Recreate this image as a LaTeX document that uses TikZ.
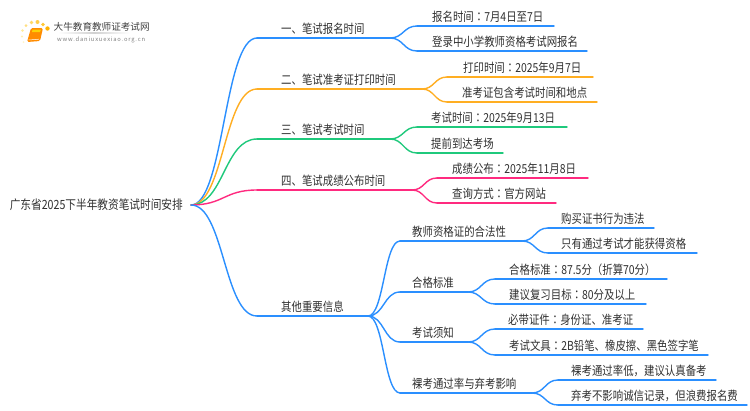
\documentclass[tikz,border=0pt]{standalone}
\usepackage{fontspec}
\setmainfont[FakeStretch=0.84]{Noto Sans CJK SC}
\newfontfamily\tcf[FakeStretch=0.84]{Noto Sans CJK TC}
\newfontfamily\logof{Noto Sans CJK SC}
\usetikzlibrary{calc}
\definecolor{cblue}{HTML}{2A8FFF}
\definecolor{corange}{HTML}{FFAE22}
\definecolor{cgreen}{HTML}{1FC97C}
\definecolor{cpink}{HTML}{FF2A7F}
\definecolor{ctext}{HTML}{303030}
\newcommand{\cln}{{\tcf ：}}
\newcommand{\cma}{，}
% \topicbar{name}{colour}{x start}{x end}{y}{text left}{text}
\newcommand{\topicbar}[7]{%
  \coordinate (#1L) at (#3,#5);
  \coordinate (#1R) at (#4,#5);
  \node[lbl,anchor=base west] (#1) at (#6,#5-4.6) {#7};
  \draw[link,#2] (#1L) -- (#1R);
}
% \conn{colour}{from}{to}
\newcommand{\conn}[3]{%
  \draw[link,#1] (#2) .. controls ($(#2)!.5!(#3|-#2)$) and ($(#3)!.5!(#2|-#3)$) .. (#3);
}
\tikzset{
  lbl/.style={inner sep=0pt,font=\fontsize{12.4pt}{14pt}\selectfont,text=ctext},
  link/.style={line width=1.4pt,line cap=round}
}
\begin{document}
\begin{tikzpicture}[x=1pt,y=-1pt]
\useasboundingbox[fill=white] (0,0) rectangle (750,410);
% logo
\fill[orange!60!yellow] (47.5,28.5) circle (2.2);
\fill[orange!55!yellow!80!white] (43,24.5) circle (1.9);
\fill[orange!55!yellow!70!white] (37.5,22) circle (2);
\fill[orange!50!yellow!60!white] (31.5,22.5) circle (1.8);
\fill[orange!50!yellow!50!white] (26,25.5) circle (1.5);
\fill[orange!40!yellow!40!white] (22.5,30.5) circle (1.3);
\fill[orange!40!yellow!30!white] (22,36.5) circle (1.1);
\fill[orange!40!yellow!20!white] (23.5,42) circle (1);
\fill[orange!90!yellow,rounded corners=1.5pt] (31,28) -- (43,28) -- (40,41) -- (27,42) -- cycle;
\fill[yellow!70!orange] (32.5,29.5) -- (41,29.5) -- (40,32) -- (32,32) -- cycle;
\draw[white,line width=.5pt] (28.5,40) -- (39,39.2);
\shade[left color=white,right color=white,middle color=black!18] (58,32.8) rectangle (130,33.6);
\node[inner sep=0pt,anchor=base west,font=\logof\fontsize{9.6pt}{11pt}\selectfont,text=black!75] (logotitle) at (53.5,30) {大牛教育教师证考试网};
\node[inner sep=0pt,anchor=base west,font=\logof\fontsize{5.8pt}{7pt}\selectfont,text=black!50] (logourl) at (57,41.3) {\addfontfeatures{LetterSpace=14}www.daniuxuexiao.org.cn};
% root
\coordinate (rootR) at (191,205);
\node[lbl,anchor=base east,font=\fontsize{12.7pt}{14pt}\selectfont] (root) at (183,209) {广东省2025下半年教资笔试时间安排};
% branch 1
\topicbar{a}{cblue}{257}{390}{38}{281}{一、笔试报名时间}
\topicbar{aa}{cblue}{417}{554}{26}{432}{报名时间\cln 7月4日至7日}
\topicbar{ab}{cblue}{417}{587}{51}{432}{登录中小学教师资格考试网报名}
\conn{cblue}{rootR}{aL}\conn{cblue}{aR}{aaL}\conn{cblue}{aR}{abL}
% branch 2
\topicbar{b}{corange}{257}{422}{89}{281}{二、笔试准考证打印时间}
\topicbar{ba}{corange}{447}{593}{77}{463}{打印时间\cln 2025年9月7日}
\topicbar{bb}{corange}{447}{597}{102}{462}{准考证包含考试时间和地点}
\conn{corange}{rootR}{bL}\conn{corange}{bR}{baL}\conn{corange}{bR}{bbL}
% branch 3
\topicbar{c}{cgreen}{257}{390}{139}{281}{三、笔试考试时间}
\topicbar{ca}{cgreen}{417}{567}{127}{431}{考试时间\cln 2025年9月13日}
\topicbar{cb}{cgreen}{417}{503}{153}{431}{提前到达考场}
\conn{cgreen}{rootR}{cL}\conn{cgreen}{cR}{caL}\conn{cgreen}{cR}{cbL}
% branch 4
\topicbar{d}{cpink}{257}{412}{190}{281}{四、笔试成绩公布时间}
\topicbar{da}{cpink}{437}{588}{178}{452}{成绩公布\cln 2025年11月8日}
\topicbar{db}{cpink}{437}{556}{203}{452}{查询方式\cln 官方网站}
\conn{cpink}{rootR}{dL}\conn{cpink}{dR}{daL}\conn{cpink}{dR}{dbL}
% branch 5
\topicbar{e}{cblue}{257}{368}{316}{281}{其他重要信息}
\conn{cblue}{rootR}{eL}
\topicbar{f}{cblue}{400}{522}{241}{412}{教师资格证的合法性}
\topicbar{fa}{cblue}{548}{654}{228}{561}{购买证书行为违法}
\topicbar{fb}{cblue}{548}{697}{253}{561}{只有通过考试才能获得资格}
\conn{cblue}{eR}{fL}\conn{cblue}{fR}{faL}\conn{cblue}{fR}{fbL}
\topicbar{g}{cblue}{400}{468}{292}{412}{合格标准}
\topicbar{ga}{cblue}{495}{667}{279}{509}{合格标准\cln 87.5分（折算70分）}
\topicbar{gb}{cblue}{495}{646}{304}{509}{建议复习目标\cln 80分及以上}
\conn{cblue}{eR}{gL}\conn{cblue}{gR}{gaL}\conn{cblue}{gR}{gbL}
\topicbar{h}{cblue}{400}{468}{342}{412}{考试须知}
\topicbar{ha}{cblue}{495}{643}{329}{508}{必带证件\cln 身份证、准考证}
\topicbar{hb}{cblue}{495}{708}{355}{509}{考试文具\cln 2B铅笔、橡皮擦、黑色签字笔}
\conn{cblue}{eR}{hL}\conn{cblue}{hR}{haL}\conn{cblue}{hR}{hbL}
\topicbar{i}{cblue}{400}{532}{393}{412}{裸考通过率与弃考影响}
\topicbar{ia}{cblue}{558}{716}{380}{571}{裸考通过率低\cma 建议认真备考}
\topicbar{ib}{cblue}{558}{747}{405}{571}{弃考不影响诚信记录\cma 但浪费报名费}
\conn{cblue}{eR}{iL}\conn{cblue}{iR}{iaL}\conn{cblue}{iR}{ibL}
\end{tikzpicture}
\end{document}
